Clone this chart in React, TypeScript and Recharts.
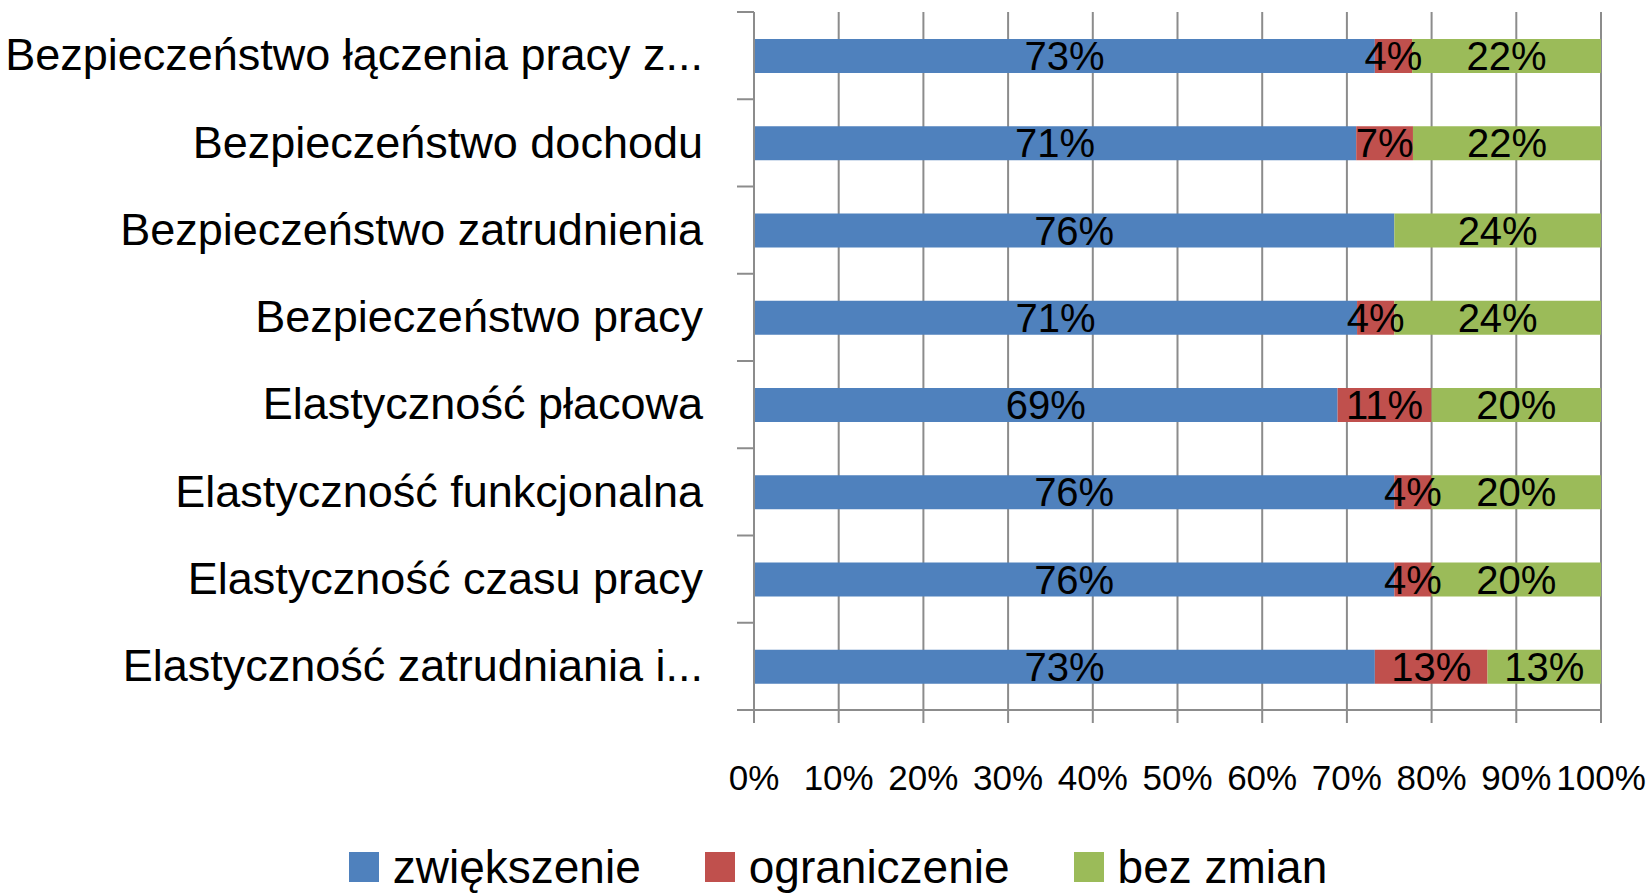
import React from 'react';
import { BarChart, Bar, XAxis, YAxis, CartesianGrid, Legend, LabelList } from 'recharts';

const categories = [
  'Bezpieczeństwo łączenia pracy z...',
  'Bezpieczeństwo dochodu',
  'Bezpieczeństwo zatrudnienia',
  'Bezpieczeństwo pracy',
  'Elastyczność płacowa',
  'Elastyczność funkcjonalna',
  'Elastyczność czasu pracy',
  'Elastyczność zatrudniania i...',
];

// shares in %
const zwiekszenie = [73.3, 71.1, 75.6, 71.2, 68.9, 75.6, 75.6, 73.3];
const ograniczenie = [4.4, 6.7, 0, 4.4, 11.1, 4.4, 4.4, 13.3];
const bezZmian = [22.3, 22.2, 24.4, 24.4, 20.0, 20.0, 20.0, 13.4];

const seriesNames = ['zwiększenie', 'ograniczenie', 'bez zmian'];
const seriesKeys = ['zwiekszenie', 'ograniczenie', 'bezZmian'];
const xTicks = [0, 10, 20, 30, 40, 50, 60, 70, 80, 90, 100];

const colors = ['#4F81BD', '#C0504D', '#9BBB59'];
const axisColor = '#8c8c8c';
const font = '"Liberation Sans", Arial, sans-serif';

const data = categories.map((name, i) => ({
  name,
  zwiekszenie: zwiekszenie[i],
  ograniczenie: ograniczenie[i],
  bezZmian: bezZmian[i],
}));

const Y_TICK_SIZE = 17;
const Y_TICK_MARGIN = 34;

// Excel style: tick marks sit between categories, not on them
const CategoryTick = (props: any) => {
  const { x, y, payload, index, visibleTicksCount } = props;
  const half = payload.offset ?? 0;
  const lx = x + Y_TICK_MARGIN;
  return (
    <g>
      <line x1={lx} x2={lx + Y_TICK_SIZE} y1={y - half} y2={y - half} stroke={axisColor} strokeWidth={2} />
      {index === visibleTicksCount - 1 && (
        <line x1={lx} x2={lx + Y_TICK_SIZE} y1={y + half} y2={y + half} stroke={axisColor} strokeWidth={2} />
      )}
      <text x={x} y={y} dy="0.33em" textAnchor="end" fontSize={45} fill="#000" fontFamily={font}>
        {payload.value}
      </text>
    </g>
  );
};

const renderLegend = () => (
  <div
    style={{
      display: 'flex',
      justifyContent: 'center',
      alignItems: 'center',
      height: 46,
      paddingLeft: 24,
      paddingBottom: 5,
      fontSize: 46,
      lineHeight: 1,
      fontFamily: font,
      color: '#000',
    }}
  >
    {seriesNames.map((n, i) => (
      <div key={n} style={{ display: 'flex', alignItems: 'center', marginRight: i < seriesNames.length - 1 ? 64 : 0 }}>
        <span style={{ display: 'inline-block', width: 30, height: 30, background: colors[i], marginRight: 14 }} />
        <span>{n}</span>
      </div>
    ))}
  </div>
);

const fmt = (v: any) => (Number(v) > 0 ? `${Math.round(Number(v))}%` : '');

export default function App() {
  return (
    <div style={{ position: 'absolute', left: 0, top: 0, background: '#fff' }}>
      <BarChart
        width={1652}
        height={895}
        data={data}
        layout="vertical"
        margin={{ top: 12, right: 51, left: 0, bottom: 0 }}
      >
        <CartesianGrid horizontal={false} stroke={axisColor} strokeWidth={2} />
        <XAxis
          type="number"
          domain={[0, 100]}
          ticks={xTicks}
          tickFormatter={(v) => `${v}%`}
          tick={{ fill: '#000', fontSize: 35, fontFamily: font }}
          tickSize={13}
          tickMargin={42}
          height={134}
          axisLine={{ stroke: axisColor, strokeWidth: 2 }}
          tickLine={{ stroke: axisColor, strokeWidth: 2 }}
          interval={0}
        />
        <YAxis
          type="category"
          dataKey="name"
          width={754}
          tickSize={Y_TICK_SIZE}
          tickMargin={Y_TICK_MARGIN}
          tickLine={false}
          axisLine={{ stroke: axisColor, strokeWidth: 2 }}
          tick={<CategoryTick />}
          interval={0}
        />
        <Legend
          verticalAlign="bottom"
          content={renderLegend}
          wrapperStyle={{ left: 0, width: 1652 }}
        />
        {seriesKeys.map((k, i) => (
          <Bar
            key={k}
            dataKey={k}
            name={seriesNames[i]}
            stackId="a"
            fill={colors[i]}
            barSize={34}
            isAnimationActive={false}
          >
            <LabelList
              dataKey={k}
              position="center"
              formatter={fmt}
              fill="#000"
              fontSize={40}
              fontFamily={font}
            />
          </Bar>
        ))}
      </BarChart>
    </div>
  );
}
